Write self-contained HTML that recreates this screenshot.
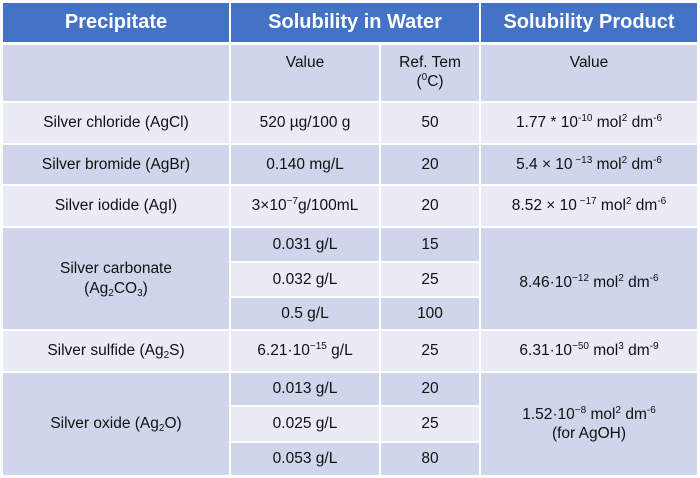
<!DOCTYPE html>
<html><head><meta charset="utf-8"><style>
body{margin:0;width:700px;height:478px;background:#fff;overflow:hidden;font-family:"Liberation Sans",sans-serif;}
.c{position:absolute;display:flex;align-items:center;justify-content:center;text-align:center;color:#111;font-size:15.5px;line-height:1.25;box-sizing:border-box}
.c>span{display:block}
.h{background:#4472C4;color:#fff;font-weight:bold;font-size:20px}
.d{background:#CFD5EA}.l{background:#E9EBF5}
sup{font-size:10px;line-height:0;vertical-align:6px}
sub{font-size:10px;line-height:0;vertical-align:-3px}
</style></head><body>
<div>
<div class="c h" style="left:3px;top:3px;width:226px;height:39px"><span>Precipitate</span></div>
<div class="c h" style="left:231px;top:3px;width:248px;height:39px"><span>Solubility in Water</span></div>
<div class="c h" style="left:481px;top:3px;width:216px;height:39px"><span>Solubility Product</span></div>

<div class="c d" style="left:3px;top:45px;width:226px;height:56px"></div>
<div class="c d" style="left:231px;top:45px;width:148px;height:56px;align-items:flex-start;padding-top:8px"><span>Value</span></div>
<div class="c d" style="left:381px;top:45px;width:98px;height:56px;align-items:flex-start;padding-top:8px"><span>Ref. Tem<br>(<sup>0</sup>C)</span></div>
<div class="c d" style="left:481px;top:45px;width:216px;height:56px;align-items:flex-start;padding-top:8px"><span>Value</span></div>

<div class="c l" style="left:3px;top:103px;width:226px;height:40px"><span>Silver chloride (AgCl)</span></div>
<div class="c l" style="left:231px;top:103px;width:148px;height:40px"><span>520 µg/100 g</span></div>
<div class="c l" style="left:381px;top:103px;width:98px;height:40px"><span>50</span></div>
<div class="c l" style="left:481px;top:103px;width:216px;height:40px"><span>1.77 * 10<sup>-10</sup>&nbsp;mol<sup>2</sup>&nbsp;dm<sup>-6</sup></span></div>

<div class="c d" style="left:3px;top:145px;width:226px;height:39px"><span>Silver bromide (AgBr)</span></div>
<div class="c d" style="left:231px;top:145px;width:148px;height:39px"><span>0.140 mg/L</span></div>
<div class="c d" style="left:381px;top:145px;width:98px;height:39px"><span>20</span></div>
<div class="c d" style="left:481px;top:145px;width:216px;height:39px"><span>5.4 × 10<sup>&nbsp;−13</sup>&nbsp;mol<sup>2</sup>&nbsp;dm<sup>-6</sup></span></div>

<div class="c l" style="left:3px;top:186px;width:226px;height:40px"><span>Silver iodide (AgI)</span></div>
<div class="c l" style="left:231px;top:186px;width:148px;height:40px"><span>3×10<sup>−7</sup>g/100mL</span></div>
<div class="c l" style="left:381px;top:186px;width:98px;height:40px"><span>20</span></div>
<div class="c l" style="left:481px;top:186px;width:216px;height:40px"><span>8.52 × 10<sup>&nbsp;−17</sup>&nbsp;mol<sup>2</sup>&nbsp;dm<sup>-6</sup></span></div>

<div class="c d" style="left:3px;top:228px;width:226px;height:101px"><span>Silver carbonate<br>(Ag<sub>2</sub>CO<sub>3</sub>)</span></div>
<div class="c d" style="left:231px;top:228px;width:148px;height:33px"><span>0.031 g/L</span></div>
<div class="c d" style="left:381px;top:228px;width:98px;height:33px"><span>15</span></div>
<div class="c l" style="left:231px;top:263px;width:148px;height:33px"><span>0.032 g/L</span></div>
<div class="c l" style="left:381px;top:263px;width:98px;height:33px"><span>25</span></div>
<div class="c d" style="left:231px;top:298px;width:148px;height:31px"><span>0.5 g/L</span></div>
<div class="c d" style="left:381px;top:298px;width:98px;height:31px"><span>100</span></div>
<div class="c d" style="left:481px;top:228px;width:216px;height:101px;align-items:flex-start;padding-top:45px"><span>8.46·10<sup>−12</sup>&nbsp;mol<sup>2</sup>&nbsp;dm<sup>-6</sup></span></div>

<div class="c l" style="left:3px;top:331px;width:226px;height:40px"><span>Silver sulfide (Ag<sub>2</sub>S)</span></div>
<div class="c l" style="left:231px;top:331px;width:148px;height:40px"><span>6.21·10<sup>−15</sup>&nbsp;g/L</span></div>
<div class="c l" style="left:381px;top:331px;width:98px;height:40px"><span>25</span></div>
<div class="c l" style="left:481px;top:331px;width:216px;height:40px"><span>6.31·10<sup>−50</sup>&nbsp;mol<sup>3</sup>&nbsp;dm<sup>-9</sup></span></div>

<div class="c d" style="left:3px;top:373px;width:226px;height:102px"><span>Silver oxide (Ag<sub>2</sub>O)</span></div>
<div class="c d" style="left:231px;top:373px;width:148px;height:32px"><span>0.013 g/L</span></div>
<div class="c d" style="left:381px;top:373px;width:98px;height:32px"><span>20</span></div>
<div class="c l" style="left:231px;top:407px;width:148px;height:34px"><span>0.025 g/L</span></div>
<div class="c l" style="left:381px;top:407px;width:98px;height:34px"><span>25</span></div>
<div class="c d" style="left:231px;top:443px;width:148px;height:32px"><span>0.053 g/L</span></div>
<div class="c d" style="left:381px;top:443px;width:98px;height:32px"><span>80</span></div>
<div class="c d" style="left:481px;top:373px;width:216px;height:102px"><span>1.52·10<sup>−8</sup>&nbsp;mol<sup>2</sup>&nbsp;dm<sup>-6</sup><br>(for AgOH)</span></div>
</div>
</body></html>
